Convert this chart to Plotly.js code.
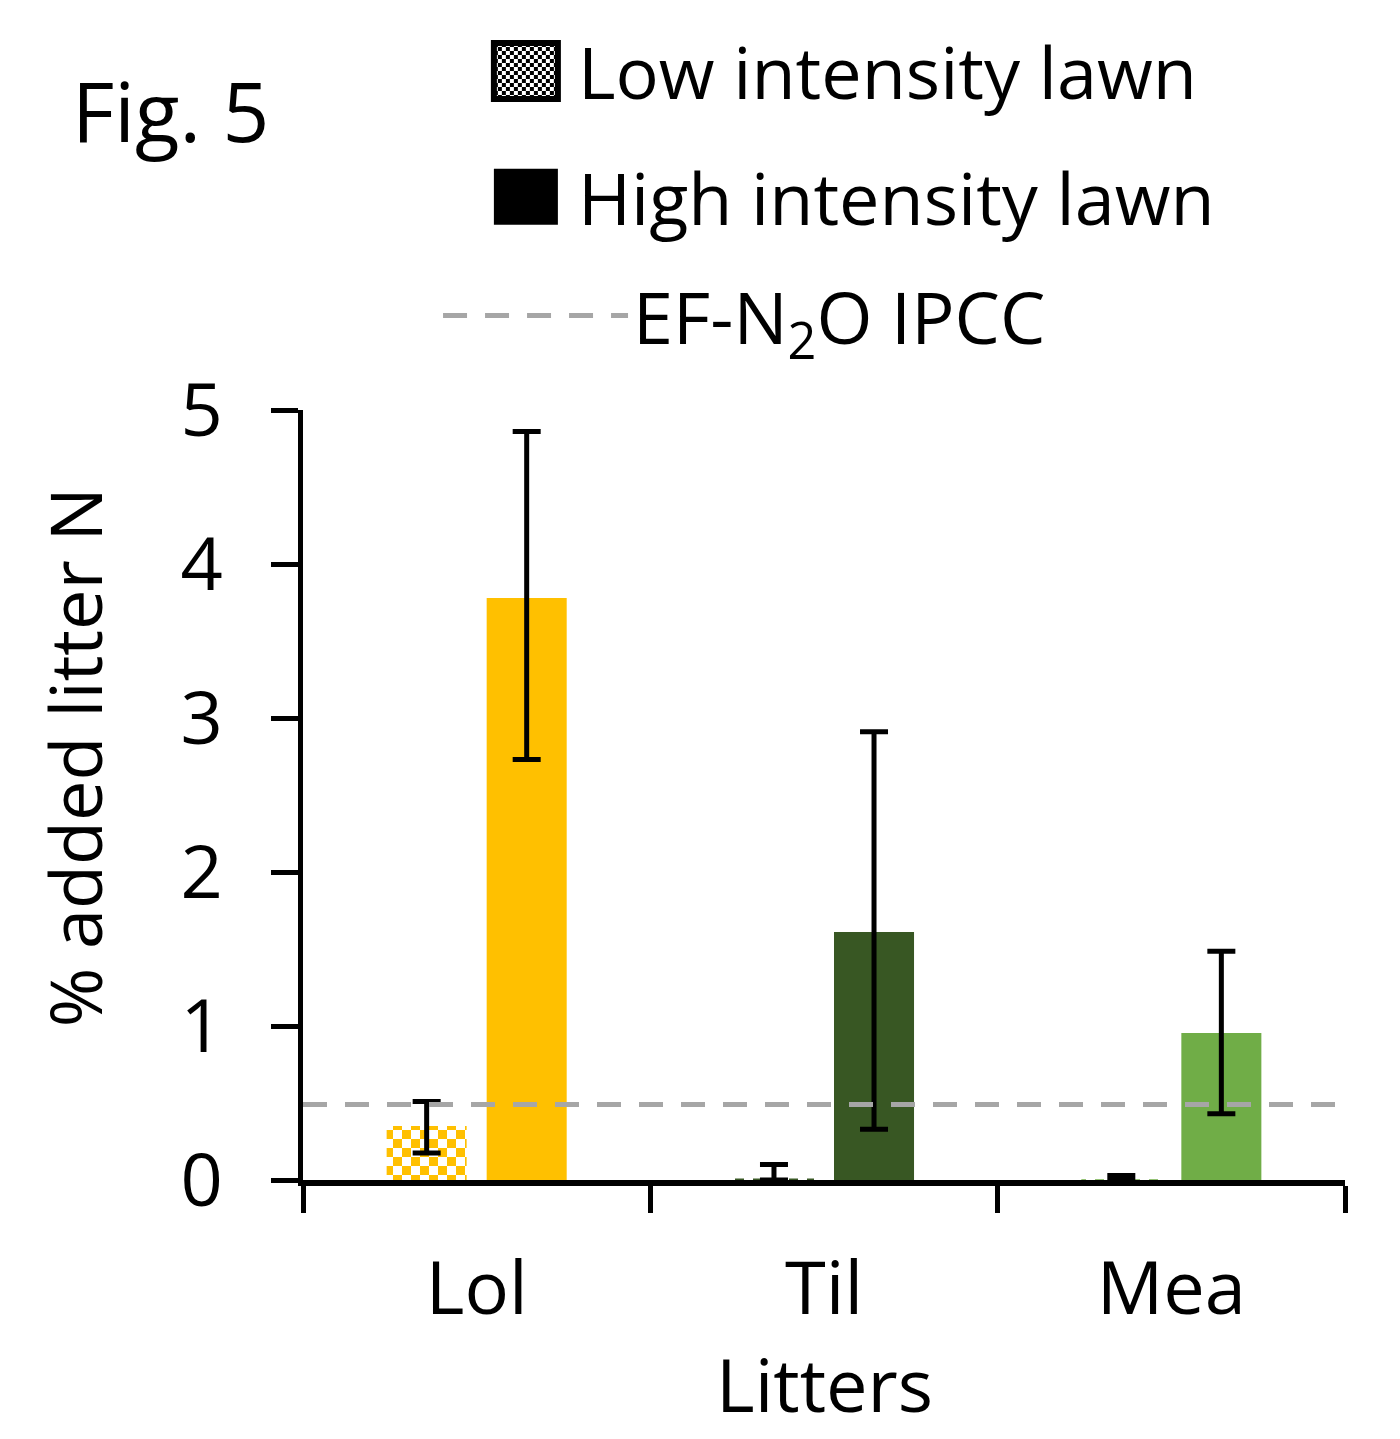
<!DOCTYPE html>
<html>
<head>
<meta charset="utf-8">
<script src="https://cdn.plot.ly/plotly-3.0.1.min.js"></script>
<style>html,body{margin:0;padding:0;background:#fff}</style>
</head>
<body>
<div id="chart" style="width:1400px;height:1439px"></div>
<script>
// ---- data ----
const litters = ['Lol', 'Til', 'Mea'];
const litterColors = ['#FFC000', '#385723', '#70AD47'];
const lowValues = [0.35, 0.01, 0.005];
const lowErrPlus = [0.16, 0.09, 0.025];
const lowErrMinus = [0.175, 0.01, 0.005];
const highValues = [3.78, 1.61, 0.955];
const highErrPlus = [1.08, 1.30, 0.53];
const highErrMinus = [1.05, 1.28, 0.525];
const ipccValue = [0.49, 0.49];
const ipccSpan = [0, 1];
const seriesNames = ['Low intensity lawn', 'High intensity lawn'];
const ipccName = 'EF-N<sub>2</sub>O IPCC';
const yTitle = '% added litter N';
const xTitle = 'Litters';
const figLabel = 'Fig. 5';

const FONT = '"Open Sans", "Noto Sans", sans-serif';
const errStyle = {type: 'data', symmetric: false, thickness: 5, width: 14, color: '#000'};

const traces = [
  {
    type: 'bar', name: seriesNames[0], x: litters, y: lowValues, offsetgroup: 'low',
    marker: {color: litterColors, line: {width: 0},
      pattern: {shape: '.', fgcolor: litterColors, bgcolor: '#ffffff', size: 18, solidity: 0.5, fillmode: 'replace'}},
    error_y: Object.assign({array: lowErrPlus, arrayminus: lowErrMinus}, errStyle),
    showlegend: false, hoverinfo: 'skip'
  },
  {
    type: 'bar', name: seriesNames[1], x: litters, y: highValues, offsetgroup: 'high',
    marker: {color: litterColors, line: {width: 0}},
    error_y: Object.assign({array: highErrPlus, arrayminus: highErrMinus}, errStyle),
    showlegend: false, hoverinfo: 'skip'
  },
  {
    type: 'scatter', mode: 'lines', name: ipccName, x: ipccSpan, y: ipccValue,
    xaxis: 'x2', yaxis: 'y',
    line: {color: '#A6A6A6', width: 5, dash: '24px,18px'},
    legend: 'legend3', showlegend: true, hoverinfo: 'skip'
  },
  // legend entries (black keys as in the reference)
  {
    type: 'bar', name: seriesNames[0], x: [litters[0]], y: [null], offsetgroup: 'low',
    marker: {color: '#000', line: {color: '#000', width: 2},
      pattern: {shape: '.', bgcolor: '#000', fgcolor: '#ffffff', size: 16, solidity: 0.5, fillmode: 'replace'}},
    legend: 'legend', showlegend: true, hoverinfo: 'skip'
  },
  {
    type: 'bar', name: seriesNames[1], x: [litters[0]], y: [null], offsetgroup: 'high',
    marker: {color: '#000', line: {width: 0}},
    legend: 'legend2', showlegend: true, hoverinfo: 'skip'
  }
];

const legendBase = {
  xanchor: 'left', yanchor: 'middle', bgcolor: 'rgba(0,0,0,0)', borderwidth: 0,
  font: {family: FONT, size: 72, color: '#000'}, itemclick: false, itemdoubleclick: false
};

const layout = {
  width: 1400, height: 1439,
  paper_bgcolor: '#fff', plot_bgcolor: '#fff',
  font: {family: FONT, size: 74, color: '#000'},
  margin: {l: 303, r: 55, t: 410, b: 259, autoexpand: false},
  barmode: 'group', bargap: 0.424, bargroupgap: 0.2,
  showlegend: true,
  xaxis: {
    type: 'category', range: [-0.5, 2.5], tickson: 'boundaries',
    ticks: 'outside', ticklen: 27, tickwidth: 5, tickcolor: '#000',
    showline: true, linewidth: 5.5, linecolor: '#000', showgrid: false, zeroline: false,
    tickfont: {family: FONT, size: 74, color: '#000'}, ticklabelstandoff: 40,
    automargin: false, fixedrange: true
  },
  xaxis2: {overlaying: 'x', anchor: 'y', range: [0, 1], visible: false, fixedrange: true},
  yaxis: {
    range: [0, 5], tick0: 0, dtick: 1,
    ticks: 'outside', ticklen: 27, tickwidth: 5, tickcolor: '#000',
    showline: true, linewidth: 5.5, linecolor: '#000', showgrid: false, zeroline: false,
    tickfont: {family: FONT, size: 74, color: '#000'}, ticklabelstandoff: 33,
    automargin: false, fixedrange: true
  },
  legend: Object.assign({}, legendBase, {x: 0.164, y: 1.44, itemwidth: 94}),
  legend2: Object.assign({}, legendBase, {x: 0.164, y: 1.2766, itemwidth: 94}),
  legend3: Object.assign({}, legendBase, {x: 0.1296, y: 1.1225, itemwidth: 185}),
  annotations: [
    {
      text: figLabel, xref: 'paper', yref: 'paper', x: -0.2236, y: 1.3896,
      xanchor: 'left', yanchor: 'middle', showarrow: false,
      font: {family: FONT, size: 82, color: '#000'}
    },
    {
      text: yTitle, xref: 'paper', yref: 'paper', x: -0.2198, y: 0.549, textangle: -90,
      xanchor: 'center', yanchor: 'middle', showarrow: false,
      font: {family: FONT, size: 72, color: '#000'}
    },
    {
      text: xTitle, xref: 'paper', yref: 'paper', x: 0.5, y: -0.2649,
      xanchor: 'center', yanchor: 'middle', showarrow: false,
      font: {family: FONT, size: 74, color: '#000'}
    }
  ]
};

const gdEl = document.getElementById('chart');
const SVGNS = 'http://www.w3.org/2000/svg';

function isPlainColor(v) {
  if (!v || v === 'none' || v === 'transparent') return false;
  const s = String(v).replace(/\s/g, '').toLowerCase();
  if (s === 'rgb(255,255,255)' || s === '#ffffff' || s === '#fff' || s === 'white') return false;
  const m = s.match(/^rgba\([^)]*,([0-9.]+)\)$/);
  if (m && parseFloat(m[1]) === 0) return false;
  if (s.indexOf('url(') === 0) return false;
  return true;
}

function restyleDom() {
  // checkerboard fill (colour + white squares) instead of dots, as in the reference
  gdEl.querySelectorAll('pattern').forEach(function (p) {
    const w = parseFloat(p.getAttribute('width'));
    if (!w) return;
    const kids = Array.from(p.children);
    const ordered = kids.filter(function (c) { return c.tagName.toLowerCase() === 'rect'; })
      .concat(kids.filter(function (c) { return c.tagName.toLowerCase() !== 'rect'; }));
    let colored = null;
    ordered.forEach(function (c) {
      [c.style.fill, c.getAttribute('fill'), c.style.stroke, c.getAttribute('stroke')].forEach(function (v) {
        if (!colored && isPlainColor(v)) colored = v;
      });
    });
    if (!colored) return;
    kids.forEach(function (c) { c.remove(); });
    const rect = document.createElementNS(SVGNS, 'rect');
    rect.setAttribute('width', w);
    rect.setAttribute('height', w);
    rect.setAttribute('fill', colored);
    p.appendChild(rect);
    const h = w / 2;
    const path = document.createElementNS(SVGNS, 'path');
    path.setAttribute('d', 'M0,0H' + h + 'V' + h + 'H0Z M' + h + ',' + h + 'H' + w + 'V' + w + 'H' + h + 'Z');
    path.setAttribute('fill', '#ffffff');
    path.setAttribute('stroke', 'none');
    p.appendChild(path);
  });
  // larger legend keys
  gdEl.querySelectorAll('g.legendpoints path').forEach(function (el) {
    const d = (el.getAttribute('d') || '').replace(/\s/g, '');
    if (d === 'M6,6H-6V-6H6Z') {
      el.setAttribute('d', 'M32,28H-32V-28H32Z');
      const s = el.style.stroke;
      if (s && s !== 'none' && el.style.strokeWidth) el.style.strokeWidth = '6px';
    }
  });
}

Plotly.newPlot(gdEl, traces, layout, {staticPlot: true, displayModeBar: false}).then(function (gd) {
  gd.on('plotly_afterplot', restyleDom);
  restyleDom();
  setTimeout(restyleDom, 50);
  setTimeout(restyleDom, 300);
  setTimeout(restyleDom, 1000);
});
</script>
</body>
</html>
